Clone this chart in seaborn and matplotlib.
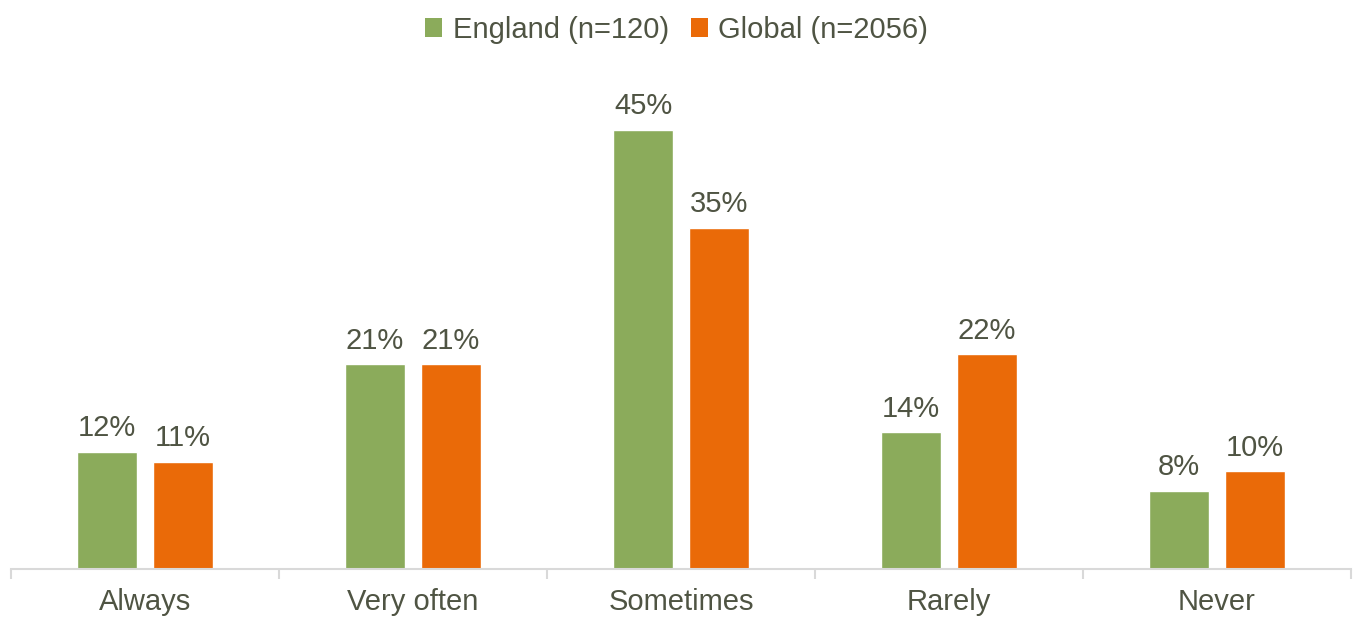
import matplotlib
matplotlib.use("Agg")
import matplotlib.pyplot as plt
import seaborn as sns
import pandas as pd
from matplotlib.ticker import FixedLocator
from matplotlib.patches import Patch

categories = ["Always", "Very often", "Sometimes", "Rarely", "Never"]
series_names = ["England (n=120)", "Global (n=2056)"]
england = [12, 21, 45, 14, 8]
global_vals = [11, 21, 35, 22, 10]

colors = ["#8BAB5B", "#EA6A08"]
text_color = "#4F5443"

df = pd.DataFrame({
    "category": categories * 2,
    "series": [series_names[0]] * len(categories) + [series_names[1]] * len(categories),
    "value": england + global_vals,
})

sns.set_style("white")
plt.rcParams["font.family"] = ["Liberation Sans", "DejaVu Sans"]

fig = plt.figure(figsize=(13.53, 6.17), dpi=100)
ax = fig.add_axes([11 / 1353, 48 / 617, 1340 / 1353, 509 / 617])

sns.barplot(data=df, x="category", y="value", hue="series", order=categories,
            hue_order=series_names, palette=colors, width=0.567, gap=0.21,
            saturation=1, ax=ax, legend=False)

for cont, vals in zip(ax.containers, [england, global_vals]):
    ax.bar_label(cont, labels=[f"{v}%" for v in vals], padding=7,
                 fontsize=21, color=text_color)

ax.set_xlim(-0.5, len(categories) - 0.5)
ax.set_ylim(0, 52.2)
ax.set_xlabel("")
ax.set_ylabel("")
ax.set_yticks([])
for s in ["top", "right", "left"]:
    ax.spines[s].set_visible(False)
ax.spines["bottom"].set_color("#D9D9D9")
ax.spines["bottom"].set_linewidth(1.5)

ax.tick_params(axis="x", which="major", length=0, pad=14, labelsize=21,
               labelcolor=text_color)
ax.xaxis.set_minor_locator(FixedLocator([i - 0.5 for i in range(len(categories) + 1)]))
ax.tick_params(axis="x", which="minor", length=7, width=1.5, color="#D9D9D9",
               direction="out", bottom=True)

handles = [Patch(facecolor=c, edgecolor="none") for c in colors]
fig.legend(handles, series_names, loc="center", bbox_to_anchor=(0.5, 1 - 30 / 617),
           ncol=2, frameon=False, fontsize=21, labelcolor=text_color,
           handlelength=0.6, handleheight=0.6, handletextpad=0.35,
           columnspacing=0.75)

fig.savefig("out.png", dpi=100)
